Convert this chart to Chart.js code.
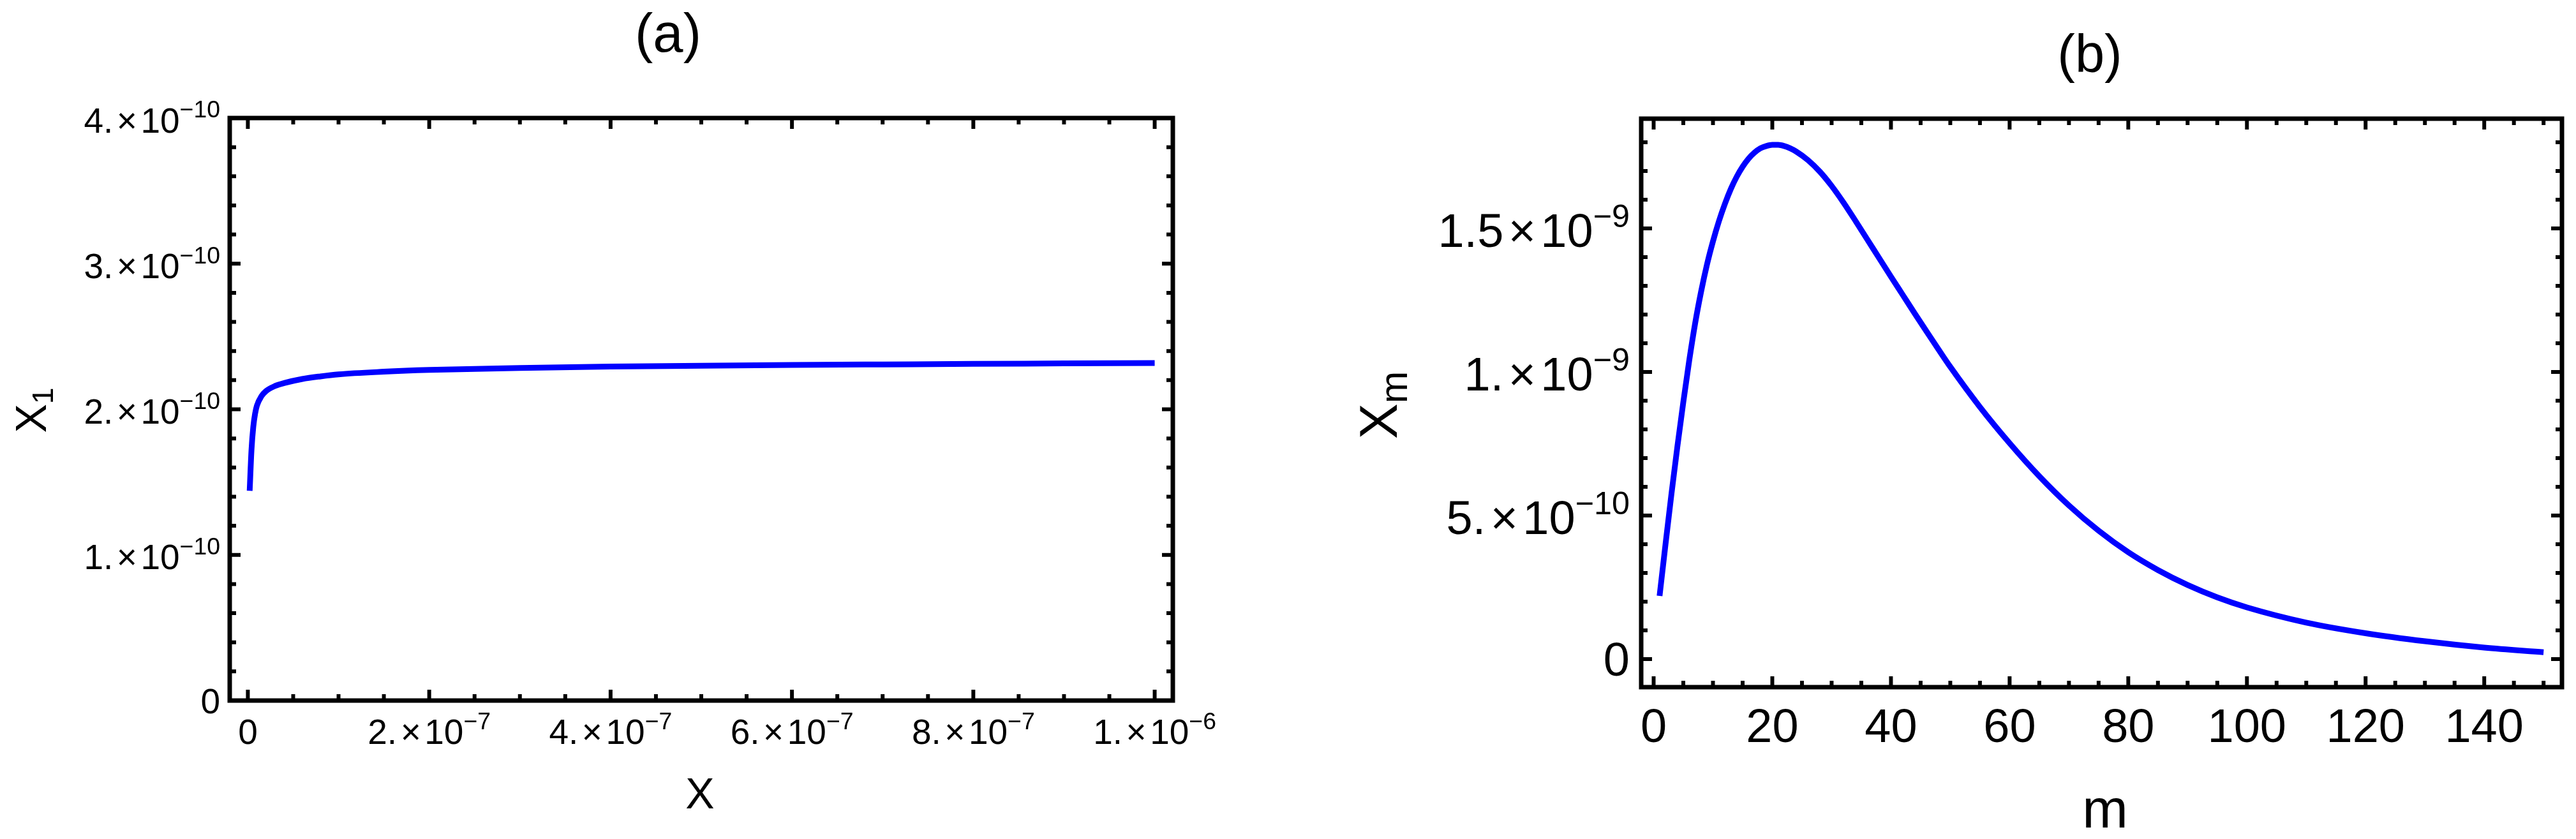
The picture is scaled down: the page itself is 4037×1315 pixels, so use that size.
<!DOCTYPE html>
<html>
<head>
<meta charset="utf-8">
<title>X1 and Xm</title>
<script src="https://cdn.jsdelivr.net/npm/chart.js@4.4.0/dist/chart.umd.min.js"></script>
<style>
  html, body { margin: 0; padding: 0; background: #fff; }
  #wrap { position: relative; width: 4037px; height: 1315px; }
  .box { position: absolute; top: 0; height: 1315px; }
</style>
</head>
<body>
<div id="wrap">
  <div class="box" style="left:0;width:2000px"><canvas id="chartA"></canvas></div>
  <div class="box" style="left:2000px;width:2037px"><canvas id="chartB"></canvas></div>
</div>
<script>
// panel (a): X1 against X
const aX = [2e-9, 4e-9, 6e-9, 8e-9, 1e-8, 1.5e-8, 2e-8, 3e-8, 4e-8, 6e-8, 8e-8, 1e-7,
            1.5e-7, 2e-7, 3e-7, 4e-7, 5e-7, 6e-7, 7e-7, 8e-7, 9e-7, 1e-6];
const aY = [1.44e-10, 1.72e-10, 1.88e-10, 1.97e-10, 2.025e-10, 2.09e-10, 2.125e-10, 2.16e-10,
            2.18e-10, 2.208e-10, 2.226e-10, 2.24e-10, 2.258e-10, 2.27e-10, 2.284e-10,
            2.293e-10, 2.299e-10, 2.304e-10, 2.308e-10, 2.312e-10, 2.315e-10, 2.318e-10];
const aXTicks = [0, 2e-7, 4e-7, 6e-7, 8e-7, 1e-6];
const aXTickLabels = ['0', '2.×10^-7', '4.×10^-7', '6.×10^-7', '8.×10^-7', '1.×10^-6'];
const aYTicks = [0, 1e-10, 2e-10, 3e-10, 4e-10];
const aYTickLabels = ['0', '1.×10^-10', '2.×10^-10', '3.×10^-10', '4.×10^-10'];

// panel (b): Xm against m
const bM = [1, 2, 3, 4, 5, 6, 7, 8, 9, 10, 11, 12, 13, 14, 15, 16, 17, 18, 19, 20, 21, 22,
            23, 24, 26, 28, 30, 32, 34, 36, 38, 40, 42, 44, 46, 48, 50, 55, 60, 65, 70, 75,
            80, 85, 90, 95, 100, 110, 120, 130, 140, 150];
const bXm = [2.2e-10, 4.0e-10, 5.75e-10, 7.4e-10, 8.95e-10, 1.04e-9, 1.17e-9, 1.28e-9,
             1.375e-9, 1.455e-9, 1.525e-9, 1.585e-9, 1.637e-9, 1.68e-9, 1.715e-9, 1.743e-9,
             1.764e-9, 1.779e-9, 1.787e-9, 1.791e-9, 1.791e-9, 1.787e-9, 1.779e-9, 1.768e-9,
             1.738e-9, 1.698e-9, 1.648e-9, 1.59e-9, 1.527e-9, 1.462e-9, 1.397e-9, 1.332e-9,
             1.268e-9, 1.204e-9, 1.141e-9, 1.079e-9, 1.018e-9, 8.78e-10, 7.52e-10, 6.37e-10,
             5.35e-10, 4.47e-10, 3.72e-10, 3.1e-10, 2.58e-10, 2.15e-10, 1.8e-10, 1.27e-10,
             9.0e-11, 6.2e-11, 4.0e-11, 2.4e-11];
const bXTicks = [0, 20, 40, 60, 80, 100, 120, 140];
const bXTickLabels = ['0', '20', '40', '60', '80', '100', '120', '140'];
const bYTicks = [0, 5e-10, 1e-9, 1.5e-9];
const bYTickLabels = ['0', '5.×10^-10', '1.×10^-9', '1.5×10^-9'];

const FONT = '"Liberation Sans", Arial, sans-serif';
const fontOf = size => size + 'px ' + FONT;

function minorTicks(start, step, count) {
  const out = [];
  for (let i = 0; i <= count; i++) out.push(start + i * step);
  return out;
}

// "2.×10^-7" -> mantissa + exponent, drawn Mathematica style
function measureLabel(ctx, label, size) {
  const i = label.indexOf('×10^');
  ctx.font = fontOf(size);
  if (i < 0) return { mant: label, w: ctx.measureText(label).width };
  const mant = label.slice(0, i);
  const exp = label.slice(i + 4).replace('-', '\u2212');
  const gap = size * 0.1;
  const wm = ctx.measureText(mant).width;
  const wx = ctx.measureText('×').width;
  const wt = ctx.measureText('10').width;
  ctx.font = fontOf(size * 0.68);
  const we = ctx.measureText(exp).width;
  return { mant, exp, gap, wm, wx, wt, w: wm + gap + wx + gap + wt + we };
}

function drawLabel(ctx, label, x, base, size, align) {
  const m = measureLabel(ctx, label, size);
  let cx = align === 'right' ? x - m.w : x - m.w / 2;
  ctx.textAlign = 'left';
  ctx.textBaseline = 'alphabetic';
  ctx.font = fontOf(size);
  ctx.fillText(m.mant, cx, base);
  if (!m.exp) return;
  cx += m.wm + m.gap;
  ctx.fillText('×', cx, base);
  cx += m.wx + m.gap;
  ctx.fillText('10', cx, base);
  cx += m.wt;
  ctx.font = fontOf(size * 0.68);
  ctx.fillText(m.exp, cx, base - size * 0.42);
}

// framed axes with inward ticks on all four sides
const mmaFrame = {
  id: 'mmaFrame',
  afterDraw(chart, args, o) {
    const { ctx, chartArea: a } = chart;
    const sx = chart.scales.x, sy = chart.scales.y;
    ctx.save();
    ctx.fillStyle = '#000';
    ctx.strokeStyle = '#000';
    ctx.lineWidth = 6;
    ctx.beginPath();
    const xt = (vals, len) => vals.forEach(v => {
      const p = sx.getPixelForValue(v);
      ctx.moveTo(p, a.bottom); ctx.lineTo(p, a.bottom - len);
      ctx.moveTo(p, a.top); ctx.lineTo(p, a.top + len);
    });
    const yt = (vals, len) => vals.forEach(v => {
      const p = sy.getPixelForValue(v);
      ctx.moveTo(a.left, p); ctx.lineTo(a.left + len, p);
      ctx.moveTo(a.right, p); ctx.lineTo(a.right - len, p);
    });
    xt(o.xMinor, 10); yt(o.yMinor, 10);
    xt(o.xTicks, 17); yt(o.yTicks, 17);
    ctx.stroke();

    ctx.lineWidth = 7;
    ctx.strokeRect(a.left, a.top, a.right - a.left, a.bottom - a.top);

    const fs = o.tickSize;
    o.xTicks.forEach((v, i) => {
      drawLabel(ctx, o.xLabels[i], sx.getPixelForValue(v), a.bottom + o.xLabelDy, fs, 'center');
    });
    o.yTicks.forEach((v, i) => {
      const lab = o.yLabels[i];
      const base = sy.getPixelForValue(v) + fs * 0.355 + (lab.includes('^') ? 3 : 0);
      drawLabel(ctx, lab, a.left - o.yLabelDx, base, fs, 'right');
    });

    const cxm = (a.left + a.right) / 2, cym = (a.top + a.bottom) / 2;
    ctx.textAlign = 'center';
    ctx.textBaseline = 'alphabetic';
    ctx.font = fontOf(o.title.size);
    ctx.fillText(o.title.text, cxm + o.title.dx, o.title.base);
    ctx.font = fontOf(o.xTitle.size);
    ctx.fillText(o.xTitle.text, cxm + o.xTitle.dx, a.bottom + o.xTitle.dy);

    // rotated y title with subscript
    const t = o.yTitle;
    ctx.save();
    ctx.translate(a.left - t.dx, cym + t.dy);
    ctx.rotate(-Math.PI / 2);
    ctx.textAlign = 'left';
    ctx.font = fontOf(t.size);
    const w1 = ctx.measureText(t.text).width;
    ctx.font = fontOf(t.size * t.subScale);
    const w2 = ctx.measureText(t.sub).width;
    const start = -(w1 + w2) / 2;
    ctx.font = fontOf(t.size);
    ctx.fillText(t.text, start, 0);
    ctx.font = fontOf(t.size * t.subScale);
    ctx.fillText(t.sub, start + w1, t.drop);
    ctx.restore();
    ctx.restore();
  }
};

function makeChart(id, xs, ys, pad, xr, yr, frame) {
  return new Chart(document.getElementById(id), {
    type: 'line',
    data: {
      datasets: [{
        data: xs.map((v, i) => ({ x: v, y: ys[i] })),
        borderColor: '#0000ff',
        borderWidth: 9,
        pointRadius: 0,
        fill: false,
        cubicInterpolationMode: 'monotone'
      }]
    },
    options: {
      responsive: true,
      maintainAspectRatio: false,
      animation: false,
      layout: { padding: pad },
      plugins: { legend: { display: false }, tooltip: { enabled: false }, mmaFrame: frame },
      scales: {
        x: { type: 'linear', min: xr[0], max: xr[1], display: false },
        y: { type: 'linear', min: yr[0], max: yr[1], display: false }
      }
    },
    plugins: [mmaFrame]
  });
}

makeChart('chartA', aX, aY,
  { left: 360, top: 185, right: 162, bottom: 217 },
  [-2e-8, 1.02e-6], [0, 4e-10],
  {
    xTicks: aXTicks, xLabels: aXTickLabels, yTicks: aYTicks, yLabels: aYTickLabels,
    xMinor: minorTicks(0, 5e-8, 20), yMinor: minorTicks(0, 2e-11, 20),
    tickSize: 55, xLabelDy: 68, yLabelDx: 15,
    title: { text: '(a)', size: 85, dx: -52, base: 81 },
    xTitle: { text: 'X', size: 68, dx: -2, dy: 169 },
    yTitle: { text: 'X', sub: '1', size: 68, subScale: 0.68, dx: 288, dy: 1.5, drop: 11 }
  });

makeChart('chartB', bM, bXm,
  { left: 572, top: 186, right: 22, bottom: 238 },
  [-2.1, 153.1], [-9.78e-11, 1.8822e-9],
  {
    xTicks: bXTicks, xLabels: bXTickLabels, yTicks: bYTicks, yLabels: bYTickLabels,
    xMinor: minorTicks(0, 5, 30), yMinor: minorTicks(0, 1e-10, 18),
    tickSize: 74, xLabelDy: 86, yLabelDx: 18,
    title: { text: '(b)', size: 83, dx: -18.5, base: 113 },
    xTitle: { text: 'm', size: 86, dx: 5.5, dy: 220 },
    yTitle: { text: 'X', sub: 'm', size: 84, subScale: 0.72, dx: 383, dy: 3.5, drop: 16 }
  });
</script>
</body>
</html>
